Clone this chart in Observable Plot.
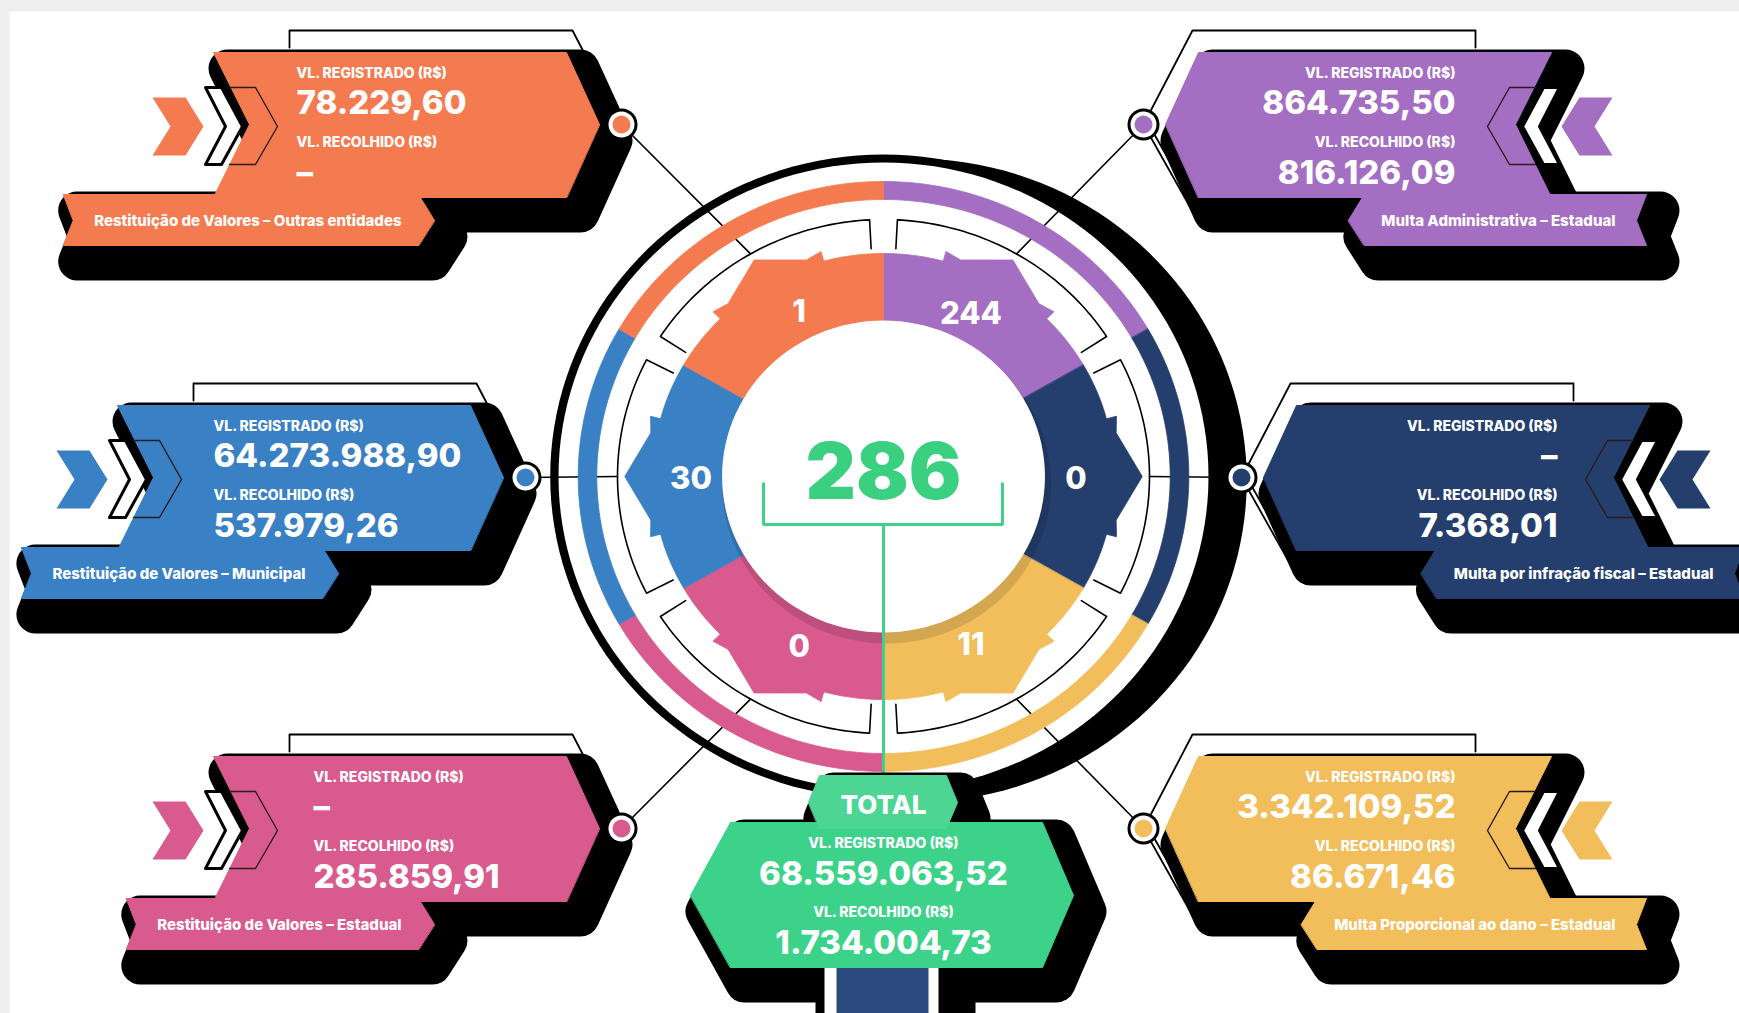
<!DOCTYPE html>
<html>
<head>
<meta charset="utf-8">
<script src="https://cdn.jsdelivr.net/npm/d3@7"></script>
<script src="https://cdn.jsdelivr.net/npm/@observablehq/plot@0.6"></script>
<style>
  html, body { margin: 0; padding: 0; background: #eeeeee; }
  #chart svg { display: block; }
</style>
</head>
<body>
<div id="chart"></div>
<script>
// ---------------- DATA ----------------
// segments clockwise from the top (top-right first)
const categories = [
  "Multa Administrativa – Estadual",
  "Multa por infração fiscal – Estadual",
  "Multa Proporcional ao dano – Estadual",
  "Restituição de Valores – Estadual",
  "Restituição de Valores – Municipal",
  "Restituição de Valores – Outras entidades"
];
const counts = [244, 0, 11, 0, 30, 1];
const registrado = [864735.50, null, 3342109.52, null, 64273988.90, 78229.60];
const recolhido = [816126.09, 7368.01, 86671.46, 285859.91, 537979.26, null];
const colors = ["#A46EC2", "#243F6D", "#F2BD5B", "#D95A8E", "#3A80C5", "#F47B4F"];
const labelRegistrado = "VL. REGISTRADO (R$)";
const labelRecolhido = "VL. RECOLHIDO (R$)";
const totalLabel = "TOTAL";
const green = "#3DD28A";

// ---------------- LAYOUT ----------------
const W = 1739, H = 1013;
const cx = 883, cy = 476, sx = 1.035;
const dotPos = [[1143,124],[1241,477],[1143,828],[621,828],[525,477],[621,124]];
const side = [1, 1, 1, -1, -1, -1];
const textU = [312, 316, 312, 308, 312, 325];

const fmt = v => {
  if (v == null) return "–";
  const [i, d] = (Math.round(v * 100) / 100).toFixed(2).split(".");
  return i.replace(/\B(?=(\d{3})+(?!\d))/g, ".") + "," + d;
};
const totalCount = d3.sum(counts);
const totalReg = Math.round(d3.sum(registrado, d => d ?? 0) * 100) / 100;
const totalRec = Math.round(d3.sum(recolhido, d => d ?? 0) * 100) / 100;

const rad = a => a * Math.PI / 180;
const pt = (a, r, ox = 0, oy = 0) => [cx + ox + r * sx * Math.sin(rad(a)), cy + oy - r * Math.cos(rad(a))];
const arc = (a0, a1, r, n = 48, ox = 0, oy = 0) => d3.range(n + 1).map(k => pt(a0 + (a1 - a0) * k / n, r, ox, oy));

let uid = 0;
const S = (pts, color) => ({id: uid++, pts, color});
const rows = list => list.flatMap(s => s.pts.map(([x, y]) => ({x, y, id: s.id, color: s.color})));
const polys = (list, opts = {}) => Plot.line(rows(list), {
  x: "x", y: "y", z: "id", fill: d => d.color, stroke: "none", curve: "linear-closed", ...opts
});
const lines = (list, opts = {}) => Plot.line(rows(list), {
  x: "x", y: "y", z: "id", fill: "none", stroke: "black", strokeWidth: 1.6, ...opts
});

const bannerSize = 15, labelSize = 14, valueSize = 33;
const ctx = document.createElement("canvas").getContext("2d");
ctx.font = `800 ${bannerSize}px Inter`;

// card geometry in (u outward, v down) relative to the dot
const toXY = (i, pts) => pts.map(([u, v]) => [dotPos[i][0] + side[i] * u, dotPos[i][1] + v]);
const body = [[22,0],[55,-72],[408,-72],[372,0],[408,73],[55,73]];
const chevFill = [[469,-27],[436,-27],[418,2],[436,31],[469,31],[451,2]];
const chevWhite = [[416,-37],[400,-37],[379,2],[400,40],[416,40],[396,2]];
const chevLine = [[392,-37],[366,-37],[344,2],[366,40],[392,40]];
const frame = [[332,-77],[332,-94],[49,-94],[0,0],[53,94]];
const frame2 = [[7,3],[59,95]];

const bodies = [], banners = [], shadowsCard = [], cF = [], cW = [], cL = [], frames = [];
const bannerTexts = [], valTexts = [];
categories.forEach((cat, i) => {
  const tw = ctx.measureText(cat).width;
  const len = tw + 64;
  let uTip, uOut;
  if (side[i] < 0) { uTip = 187; uOut = uTip + len; } else { uOut = 503; uTip = uOut - len; }
  const bn = [[uTip,96],[uTip+16,70],[uOut,70],[uOut-10,96],[uOut,121],[uTip+16,121]];
  bodies.push(S(toXY(i, body), colors[i]));
  banners.push(S(toXY(i, bn), colors[i]));
  shadowsCard.push(S(toXY(i, body), "black"), S(toXY(i, bn), "black"));
  cF.push(S(toXY(i, chevFill), colors[i]));
  cW.push(S(toXY(i, chevWhite), "white"));
  cL.push(S(toXY(i, chevLine), "none"));
  frames.push(S(toXY(i, frame), "none"));
  if (side[i] > 0) frames.push(S(toXY(i, frame2), "none"));
  const tx = dotPos[i][0] + side[i] * (uOut - 31);
  bannerTexts.push({x: tx, y: dotPos[i][1] + 101, t: cat, anchor: side[i] < 0 ? "start" : "end"});
  const lx = dotPos[i][0] + side[i] * textU[i];
  const anchor = side[i] < 0 ? "start" : "end";
  valTexts.push(
    {x: lx, y: dotPos[i][1] - 47, t: labelRegistrado, anchor, size: labelSize},
    {x: lx, y: dotPos[i][1] - 11, t: fmt(registrado[i]), anchor, size: valueSize},
    {x: lx, y: dotPos[i][1] + 22, t: labelRecolhido, anchor, size: labelSize},
    {x: lx, y: dotPos[i][1] + 59, t: fmt(recolhido[i]), anchor, size: valueSize}
  );
});

// ring geometry
const bands = [], brackets = [], petals = [], connectors = [], numbers = [];
const labelShift = [-3, 0, 3, -4, 0, 4];
counts.forEach((c, i) => {
  const a0 = i * 60, a1 = a0 + 60, mid = a0 + 30;
  bands.push(S([...arc(a0, a1, 295), ...arc(a1, a0, 277)], colors[i]));
  brackets.push(S([pt(a0 + 3, 228), ...arc(a0 + 3, a1 - 3, 257), pt(a1 - 3, 228)], "none"));
  petals.push(S([
    ...arc(a0, mid - 15, 223, 16),
    pt(mid - 15, 233), pt(mid - 11, 229), pt(mid, 250), pt(mid + 11, 229), pt(mid + 15, 233),
    ...arc(mid + 15, a1, 223, 16),
    ...arc(a1, a0, 140)
  ], colors[i]));
  connectors.push(S([dotPos[i], pt(mid, 257)], "none"));
  const [nx, ny] = pt(mid + labelShift[i], 186, 0, 3);
  numbers.push({x: nx, y: ny, t: String(c)});
});

const bg = [S([[0,0],[W,0],[W,H],[0,H]], "#eeeeee"), S([[9,11],[W,11],[W,H],[9,H]], "white")];
const ringShadow = [S(arc(0, 360, 322, 160, 30, 4), "black"), S(arc(0, 360, 322, 160), "black")];
const ringWhite = [S(arc(0, 360, 314, 160), "white")];
const holeShadow = [S(arc(0, 360, 159, 120, 3, 8), "rgba(0,0,0,0.12)")];
const hole = [S(arc(0, 360, 156, 120), "white")];
const greenBracket = [S([[763,482],[763,524],[1002,524],[1002,482]], "none"), S([[cx,524],[cx,778]], "none")];

// total box
const tab = [[808,802],[819,775],[946,775],[957,802],[946,828],[819,828]];
const box = [[690,895],[730,822],[1042,822],[1073,895],[1042,967],[730,967]];
const totalShadow = [S(tab, "black"), S(box, "black")];
const pedestal = [
  S([[815,958],[975,958],[975,H],[815,H]], "black"),
  S([[824,958],[938,958],[938,H],[824,H]], "white"),
  S([[836,958],[928,958],[928,H],[836,H]], "#2B4A7E")
];
const totalTexts = [
  {x: cx, y: 847, t: labelRegistrado, size: labelSize},
  {x: cx, y: 884, t: fmt(totalReg), size: valueSize},
  {x: cx, y: 916, t: labelRecolhido, size: labelSize},
  {x: cx, y: 953, t: fmt(totalRec), size: valueSize}
];

const font = "Inter, 'DejaVu Sans', sans-serif";
const txt = (data, opts) => Plot.text(data, {x: "x", y: "y", text: "t", fill: "white", fontFamily: font, fontWeight: 800, lineAnchor: "bottom", ...opts});
const dots = dotPos.map((p, i) => ({x: p[0], y: p[1], color: colors[i]}));
const vt = (anchor, size) => txt(valTexts.filter(d => d.anchor === anchor && d.size === size), {textAnchor: anchor, fontSize: size});

const chart = Plot.plot({
  width: W, height: H, margin: 0,
  x: {domain: [0, W], range: [0, W], axis: null},
  y: {domain: [0, H], range: [0, H], axis: null},
  color: {type: "identity"},
  style: {background: "transparent", overflow: "visible"},
  marks: [
    polys(bg),
    polys(ringShadow),
    polys(ringWhite),
    lines(frames, {strokeWidth: 1.8}),
    polys(shadowsCard, {stroke: "black", strokeWidth: 38, strokeLinejoin: "round", dx: 14, dy: 16}),
    polys(cW, {stroke: "black", strokeWidth: 3}),
    polys(bodies, {stroke: d => d.color, strokeWidth: 1}),
    polys(banners, {stroke: d => d.color, strokeWidth: 1}),
    polys(cF),
    lines(cL, {stroke: "#2a1a1a", strokeWidth: 1.4, curve: "linear"}),
    txt(bannerTexts.filter(d => d.anchor === "start"), {textAnchor: "start", fontSize: bannerSize}),
    txt(bannerTexts.filter(d => d.anchor === "end"), {textAnchor: "end", fontSize: bannerSize}),
    vt("start", labelSize), vt("start", valueSize), vt("end", labelSize), vt("end", valueSize),
    lines(connectors, {strokeWidth: 1.6}),
    polys(bands, {stroke: d => d.color, strokeWidth: 0.8}),
    lines(brackets, {strokeWidth: 1.6, curve: "linear"}),
    polys(petals, {stroke: d => d.color, strokeWidth: 0.8, strokeLinejoin: "miter"}),
    polys(holeShadow),
    polys(hole),
    txt(numbers, {fontSize: 31, lineAnchor: "middle"}),
    lines(greenBracket, {stroke: green, strokeWidth: 3, strokeLinecap: "butt", strokeLinejoin: "miter"}),
    Plot.text([{x: cx, y: 474, t: String(totalCount)}], {x: "x", y: "y", text: "t", fill: "#3BCF80", fontFamily: font, fontWeight: 900, fontSize: 78, lineAnchor: "middle"}),
    polys(totalShadow, {stroke: "black", strokeWidth: 38, strokeLinejoin: "round", dx: 14, dy: 16}),
    polys(pedestal),
    polys([S(box, green)], {stroke: green, strokeWidth: 1}),
    polys([S(tab, "#4CD593")], {stroke: "#4CD593", strokeWidth: 1}),
    txt([{x: cx, y: 813, t: totalLabel}], {fontSize: 26}),
    txt(totalTexts.filter(d => d.size === labelSize), {fontSize: labelSize}),
    txt(totalTexts.filter(d => d.size === valueSize), {fontSize: valueSize}),
    Plot.dot(dots, {x: "x", y: "y", r: 16, fill: "black"}),
    Plot.dot(dots, {x: "x", y: "y", r: 13, fill: "white"}),
    Plot.dot(dots, {x: "x", y: "y", r: 9, fill: d => d.color})
  ]
});
document.getElementById("chart").append(chart);
</script>
</body>
</html>
